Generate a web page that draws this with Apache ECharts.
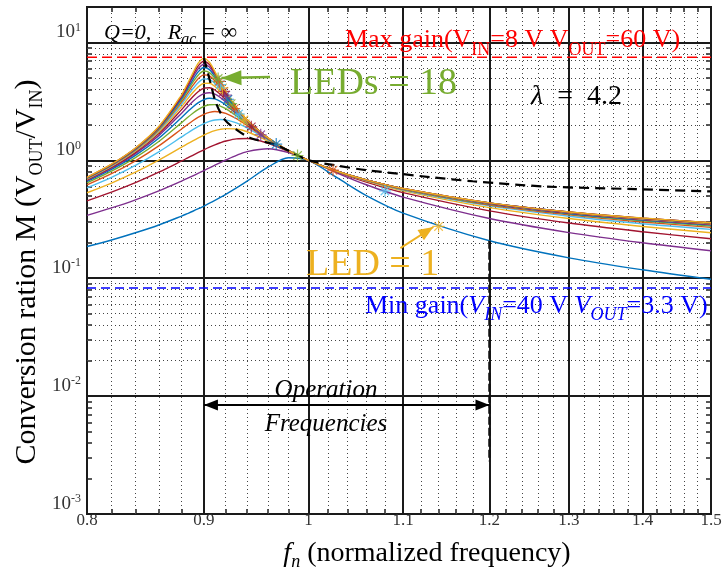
<!DOCTYPE html>
<html>
<head>
<meta charset="utf-8">
<script src="https://cdn.jsdelivr.net/npm/echarts@6/dist/echarts.min.js"></script>
<style>
  html, body { margin: 0; padding: 0; background: #fff; }
  #chart { width: 725px; height: 577px; }
</style>
</head>
<body>
<div id="chart"></div>
<script>
// Normalized switching frequency samples shared by all gain curves
const freq = [0.80, 0.82, 0.84, 0.86, 0.88, 0.885, 0.89, 0.895, 0.90, 0.905, 0.91, 0.915, 0.92, 0.93, 0.94, 0.96, 0.98, 1.00, 1.03, 1.06, 1.10, 1.20, 1.30, 1.40, 1.50];

// Conversion ratio M for 1..18 series-connected LEDs
const led1  = [0.186, 0.211, 0.243, 0.283, 0.337, 0.353, 0.370, 0.389, 0.410, 0.433, 0.458, 0.485, 0.515, 0.584, 0.667, 0.876, 1.053, 1.000, 0.706, 0.503, 0.357, 0.208, 0.149, 0.118, 0.098];
const led2  = [0.341, 0.395, 0.463, 0.552, 0.668, 0.702, 0.739, 0.778, 0.820, 0.864, 0.910, 0.958, 1.007, 1.103, 1.186, 1.254, 1.164, 1.000, 0.777, 0.621, 0.488, 0.321, 0.244, 0.200, 0.171];
const led3  = [0.454, 0.538, 0.647, 0.794, 0.988, 1.045, 1.105, 1.167, 1.230, 1.293, 1.354, 1.410, 1.459, 1.523, 1.531, 1.398, 1.189, 1.000, 0.793, 0.654, 0.532, 0.373, 0.294, 0.248, 0.216];
const led4  = [0.531, 0.642, 0.793, 1.003, 1.293, 1.378, 1.466, 1.554, 1.640, 1.719, 1.785, 1.833, 1.860, 1.844, 1.748, 1.461, 1.198, 1.000, 0.798, 0.667, 0.551, 0.397, 0.321, 0.275, 0.243];
const led5  = [0.584, 0.717, 0.905, 1.180, 1.580, 1.699, 1.821, 1.940, 2.050, 2.139, 2.199, 2.222, 2.207, 2.081, 1.885, 1.493, 1.202, 1.000, 0.801, 0.673, 0.560, 0.411, 0.336, 0.290, 0.260];
const led6  = [0.619, 0.770, 0.990, 1.326, 1.846, 2.005, 2.168, 2.325, 2.459, 2.553, 2.594, 2.574, 2.501, 2.256, 1.975, 1.511, 1.204, 1.000, 0.802, 0.676, 0.566, 0.418, 0.345, 0.300, 0.270];
const led7  = [0.644, 0.809, 1.054, 1.445, 2.090, 2.296, 2.507, 2.708, 2.869, 2.960, 2.968, 2.889, 2.747, 2.385, 2.036, 1.523, 1.206, 1.000, 0.803, 0.678, 0.569, 0.423, 0.351, 0.307, 0.277];
const led8  = [0.663, 0.837, 1.103, 1.542, 2.313, 2.569, 2.838, 3.087, 3.278, 3.361, 3.319, 3.168, 2.953, 2.482, 2.078, 1.530, 1.206, 1.000, 0.804, 0.679, 0.571, 0.427, 0.354, 0.311, 0.282];
const led9  = [0.676, 0.858, 1.141, 1.622, 2.514, 2.826, 3.156, 3.465, 3.686, 3.751, 3.647, 3.415, 3.123, 2.556, 2.109, 1.536, 1.207, 1.000, 0.804, 0.680, 0.573, 0.429, 0.357, 0.314, 0.286];
const led10 = [0.686, 0.875, 1.170, 1.687, 2.695, 3.066, 3.465, 3.840, 4.094, 4.134, 3.953, 3.631, 3.265, 2.613, 2.132, 1.539, 1.208, 1.000, 0.805, 0.681, 0.574, 0.431, 0.359, 0.317, 0.288];
const led11 = [0.693, 0.887, 1.194, 1.740, 2.857, 3.288, 3.761, 4.211, 4.502, 4.505, 4.237, 3.820, 3.384, 2.657, 2.149, 1.542, 1.208, 1.000, 0.805, 0.682, 0.575, 0.432, 0.361, 0.318, 0.290];
const led12 = [0.699, 0.897, 1.213, 1.784, 3.003, 3.492, 4.049, 4.579, 4.909, 4.868, 4.494, 3.985, 3.483, 2.694, 2.163, 1.544, 1.208, 1.000, 0.805, 0.682, 0.575, 0.433, 0.362, 0.320, 0.292];
const led13 = [0.704, 0.905, 1.228, 1.821, 3.133, 3.681, 4.320, 4.945, 5.315, 5.214, 4.735, 4.130, 3.567, 2.722, 2.173, 1.546, 1.208, 1.000, 0.805, 0.682, 0.576, 0.434, 0.363, 0.321, 0.293];
const led14 = [0.708, 0.912, 1.241, 1.852, 3.250, 3.858, 4.583, 5.307, 5.721, 5.556, 4.958, 4.257, 3.637, 2.745, 2.182, 1.547, 1.209, 1.000, 0.805, 0.683, 0.576, 0.434, 0.364, 0.322, 0.294];
const led15 = [0.711, 0.917, 1.251, 1.878, 3.352, 4.016, 4.828, 5.662, 6.127, 5.882, 5.157, 4.368, 3.699, 2.765, 2.189, 1.548, 1.209, 1.000, 0.805, 0.683, 0.576, 0.435, 0.364, 0.322, 0.295];
const led16 = [0.714, 0.921, 1.260, 1.900, 3.446, 4.163, 5.071, 6.008, 6.532, 6.203, 5.345, 4.466, 3.750, 2.781, 2.195, 1.549, 1.209, 1.000, 0.805, 0.683, 0.577, 0.435, 0.365, 0.323, 0.295];
const led17 = [0.716, 0.925, 1.267, 1.919, 3.529, 4.299, 5.294, 6.362, 6.935, 6.498, 5.513, 4.552, 3.793, 2.795, 2.200, 1.550, 1.209, 1.000, 0.805, 0.683, 0.577, 0.435, 0.365, 0.323, 0.296];
const led18 = [0.718, 0.928, 1.273, 1.936, 3.601, 4.423, 5.504, 6.711, 7.338, 6.789, 5.669, 4.629, 3.832, 2.806, 2.204, 1.551, 1.209, 1.000, 0.805, 0.683, 0.577, 0.436, 0.365, 0.324, 0.296];
const ledCurves = [led1, led2, led3, led4, led5, led6, led7, led8, led9, led10, led11, led12, led13, led14, led15, led16, led17, led18];

// Operating point of each LED string (marked with an asterisk)
const opFreq = [1.140, 1.080, 1.025, 0.989, 0.968, 0.953, 0.944, 0.937, 0.932, 0.928, 0.925, 0.922, 0.920, 0.918, 0.917, 0.915, 0.914, 0.913];
const opGain = [0.275, 0.550, 0.825, 1.100, 1.375, 1.650, 1.925, 2.200, 2.475, 2.750, 3.025, 3.300, 3.575, 3.850, 4.125, 4.400, 4.675, 4.950];

// Q = 0 (open load) boundary curve
const boundFreq = [0.900, 0.906, 0.911, 0.919, 0.929, 0.943, 0.967, 0.986, 1.000, 1.030, 1.060, 1.096, 1.131, 1.180, 1.270, 1.390, 1.500];
const boundGain = [7.40, 4.54, 3.07, 2.22, 1.85, 1.55, 1.36, 1.14, 1.00, 0.90, 0.825, 0.77, 0.72, 0.665, 0.60, 0.57, 0.545];

// Gain limits from the input/output voltage ranges
const VIN_MIN = 8, VOUT_MAX = 60, VIN_MAX = 40, VOUT_MIN = 3.3;
const maxGain = VOUT_MAX / VIN_MIN;
const minGain = VOUT_MIN / VIN_MAX;

// Operation frequency window
const opBand = [0.9, 1.2];
const opBandArrowGain = 0.0084;
const opLimitLine = [0.208, 0.0028];

// Annotation arrows [tail, tip] in (fn, M)
const arrowLEDs18 = [[0.962, 5.09], [0.916, 4.99]];
const arrowLED1 = [[1.097, 0.180], [1.134, 0.272]];

// Axis ticks and grid
const xRange = [0.8, 1.5];
const yRange = [0.001, 20];
const xTickLabels = [0.8, 0.9, 1.0, 1.1, 1.2, 1.3, 1.4, 1.5];
const xMajorGrid = [0.9, 1.0, 1.1, 1.2, 1.3, 1.4];
const xMinorGrid = [0.82, 0.84, 0.86, 0.88, 0.92, 0.94, 0.96, 0.98, 1.02, 1.04, 1.06, 1.08, 1.12, 1.14, 1.16, 1.18,
                    1.22, 1.24, 1.26, 1.28, 1.32, 1.34, 1.36, 1.38, 1.42, 1.44, 1.46, 1.48];
const yTickLabels = [0.001, 0.01, 0.1, 1, 10];
const yMajorGrid = [0.01, 0.1, 1, 10];
const yMinorGrid = [0.002, 0.003, 0.004, 0.005, 0.006, 0.007, 0.008, 0.009,
                    0.02, 0.03, 0.04, 0.05, 0.06, 0.07, 0.08, 0.09,
                    0.2, 0.3, 0.4, 0.5, 0.6, 0.7, 0.8, 0.9,
                    2, 3, 4, 5, 6, 7, 8, 9];

const palette = ['#0072BD', '#7E2F8E', '#A2142F', '#EDB120', '#4DBEEE', '#D95319', '#77AC30'];
const SERIF = '"Liberation Serif", "Times New Roman", serif';

// 8-armed asterisk marker
const STAR = 'path://M9,0L11,0L11,20L9,20Z M0,9L20,9L20,11L0,11Z M2.2,3.6L3.6,2.2L17.8,16.4L16.4,17.8Z M16.4,2.2L17.8,3.6L3.6,17.8L2.2,16.4Z';

const chart = echarts.init(document.getElementById('chart'), null, { renderer: 'canvas' });

const majorGridStyle = { color: '#1a1a1a', width: 2, type: 'solid' };
const minorGridStyle = { color: '#444', width: 1, type: [1, 3] };
const gridLines = [];
xMinorGrid.forEach(v => gridLines.push({ xAxis: v, lineStyle: minorGridStyle }));
yMinorGrid.forEach(v => gridLines.push({ yAxis: v, lineStyle: minorGridStyle }));
xMajorGrid.forEach(v => gridLines.push({ xAxis: v, lineStyle: majorGridStyle }));
yMajorGrid.forEach(v => gridLines.push({ yAxis: v, lineStyle: majorGridStyle }));

function logAxis(range, extra) {
  return Object.assign({
    type: 'log', logBase: 10, min: range[0], max: range[1],
    axisLine: { show: false },
    splitLine: { show: false },
    minorTick: { show: false },
    minorSplitLine: { show: false }
  }, extra);
}

const xTicks = { show: true, inside: true, length: 5, customValues: xMinorGrid, lineStyle: { color: '#222', width: 1.5 } };
const yTicks = { show: true, inside: true, length: 5, customValues: yMinorGrid, lineStyle: { color: '#222', width: 1.5 } };

const series = [];

// grid lines
series.push({
  type: 'line', data: [[1, 1]], symbol: 'none', lineStyle: { opacity: 0 }, silent: true, z: 1,
  markLine: { silent: true, symbol: 'none', animation: false, z: 1, label: { show: false }, emphasis: { disabled: true }, data: gridLines }
});

// gain curves
ledCurves.forEach((vals, i) => {
  series.push({
    name: 'LED ' + (i + 1), type: 'line', z: 3, silent: true, symbol: 'none', smooth: 0.3,
    lineStyle: { color: palette[i % 7], width: 1.4 },
    data: freq.map((f, k) => [f, vals[k]])
  });
});

// gain limits
series.push({ type: 'line', z: 4, silent: true, symbol: 'none',
  lineStyle: { color: '#FF0000', width: 1.5, type: [10, 5] }, data: [[xRange[0], maxGain], [xRange[1], maxGain]] });
series.push({ type: 'line', z: 4, silent: true, symbol: 'none',
  lineStyle: { color: '#0000FF', width: 1.5, type: [9, 5] }, data: [[xRange[0], minGain], [xRange[1], minGain]] });

// Q = 0 boundary
series.push({ type: 'line', z: 5, silent: true, symbol: 'none', smooth: 0.3,
  lineStyle: { color: '#000', width: 2.2, type: [10, 6] }, data: boundFreq.map((f, k) => [f, boundGain[k]]) });

// upper limit of operation band
series.push({ type: 'line', z: 5, silent: true, symbol: 'none',
  lineStyle: { color: '#111', width: 2.5, type: [8, 3] }, data: [[opBand[1], opLimitLine[0]], [opBand[1], opLimitLine[1]]] });

// operating points
series.push({ type: 'scatter', z: 6, silent: true, symbol: STAR, symbolSize: 12,
  data: opFreq.map((f, k) => ({ value: [f, opGain[k]], itemStyle: { color: palette[(k + 3) % 7] } })) });

// arrows
function arrow(pts, color, width, head, both) {
  return {
    type: 'line', data: [], z: 7, silent: true,
    markLine: {
      silent: true, animation: false, z: 7,
      symbol: both ? ['triangle', 'triangle'] : ['none', 'triangle'],
      symbolSize: head,
      symbolOffset: [[0, '50%'], [0, '50%']],
      label: { show: false }, emphasis: { disabled: true },
      lineStyle: { color: color, width: width, type: 'solid' },
      itemStyle: { color: color },
      data: [[{ coord: pts[0] }, { coord: pts[1] }]]
    }
  };
}
series.push(arrow(arrowLEDs18, '#77AC30', 2.5, [15, 20], false));
series.push(arrow(arrowLED1, '#EDB120', 2, [12, 15], false));
series.push(arrow([[opBand[0], opBandArrowGain], [opBand[1], opBandArrowGain]], '#000', 2, [11, 14], true));

function rt(font, size, extra) {
  return Object.assign({ fontFamily: SERIF, fontSize: size, fill: '#000' }, font, extra);
}

const graphics = [
  { type: 'text', x: 104, y: 33, z: 10, silent: true, style: {
      text: '{i|Q=0,   R}{s|ac}{n| = ∞}', align: 'left', verticalAlign: 'middle',
      rich: { i: rt({ fontStyle: 'italic' }, 22, { lineHeight: 30 }), s: rt({ fontStyle: 'italic' }, 16, { lineHeight: 17, verticalAlign: 'bottom' }),
              n: rt({}, 23, { lineHeight: 30 }) } } },
  { type: 'text', x: 345, y: 40.5, z: 10, silent: true, style: {
      text: '{m|Max gain(V}{s|IN}{m|=8 V V}{s|OUT}{m|=60 V)}', align: 'left', verticalAlign: 'middle',
      rich: { m: rt({ fill: '#FF0000' }, 26, { lineHeight: 37 }), s: rt({ fill: '#FF0000' }, 18, { lineHeight: 20, verticalAlign: 'bottom' }) } } },
  { type: 'text', x: 290, y: 84, z: 10, silent: true, style: {
      text: 'LEDs = 18', fill: '#77AC30', font: '38px ' + SERIF, align: 'left', verticalAlign: 'middle' } },
  { type: 'text', x: 531, y: 97, z: 10, silent: true, style: {
      text: '{i|λ}{m|  =  4.2}', align: 'left', verticalAlign: 'middle',
      rich: { i: rt({ fontStyle: 'italic' }, 28), m: rt({}, 28) } } },
  { type: 'text', x: 306, y: 265, z: 10, silent: true, style: {
      text: 'LED = 1', fill: '#EDB120', font: '38px ' + SERIF, align: 'left', verticalAlign: 'middle' } },
  { type: 'text', x: 365, y: 306.6, z: 10, silent: true, style: {
      text: '{m|Min gain(}{i|V}{s|IN}{m|=40 V }{i|V}{s|OUT}{m|=3.3 V)}', align: 'left', verticalAlign: 'middle',
      rich: { m: rt({ fill: '#0000FF' }, 26, { lineHeight: 36 }), i: rt({ fill: '#0000FF', fontStyle: 'italic' }, 26, { lineHeight: 36 }),
              s: rt({ fill: '#0000FF', fontStyle: 'italic' }, 18, { lineHeight: 20, verticalAlign: 'bottom' }) } } },
  { type: 'text', x: 326, y: 390.6, z: 10, silent: true, style: {
      text: 'Operation', fill: '#000', font: 'italic 25px ' + SERIF, align: 'center', verticalAlign: 'middle' } },
  { type: 'text', x: 326, y: 424.6, z: 10, silent: true, style: {
      text: 'Frequencies', fill: '#000', font: 'italic 25px ' + SERIF, align: 'center', verticalAlign: 'middle' } },
  { type: 'text', x: 27, y: 272, rotation: Math.PI / 2, z: 10, silent: true, style: {
      text: '{m|Conversion ration M (V}{s|OUT}{m|/V}{s|IN}{m|)}', align: 'center', verticalAlign: 'middle',
      rich: { m: rt({}, 30, { lineHeight: 38 }), s: rt({}, 18, { lineHeight: 20, verticalAlign: 'bottom' }) } } },
  { type: 'text', x: 427, y: 553.5, z: 10, silent: true, style: {
      text: '{i|f}{s|n}{m| (normalized frequency)}', align: 'center', verticalAlign: 'middle',
      rich: { i: rt({ fontStyle: 'italic' }, 28, { lineHeight: 36 }), s: rt({ fontStyle: 'italic' }, 18, { lineHeight: 20, verticalAlign: 'bottom' }),
              m: rt({}, 28, { lineHeight: 36 }) } } }
];

const option = {
  animation: false,
  backgroundColor: '#fff',
  textStyle: { fontFamily: SERIF },
  grid: { left: 87, right: 14, top: 7, bottom: 63, show: true, borderColor: '#1a1a1a', borderWidth: 2,
          backgroundColor: 'transparent', containLabel: false, outerBoundsMode: 'none' },
  xAxis: [
    logAxis(xRange, { position: 'bottom', axisTick: xTicks,
      axisLabel: { customValues: xTickLabels, showMinLabel: true, showMaxLabel: true, margin: -2,
        fontFamily: SERIF, fontSize: 17, color: '#333',
        formatter: v => String(Math.round(v * 10) / 10) } }),
    logAxis(xRange, { position: 'top', axisTick: xTicks, axisLabel: { show: false } })
  ],
  yAxis: [
    logAxis(yRange, { position: 'left', axisTick: yTicks,
      axisLabel: { customValues: yTickLabels, showMinLabel: true, showMaxLabel: true, margin: 6,
        padding: [0, 0, 20, 0],
        formatter: v => '{b|10}{e|' + Math.round(Math.log10(v)) + '}',
        rich: { b: { fontFamily: SERIF, fontSize: 19, lineHeight: 22, color: '#333' },
                e: { fontFamily: SERIF, fontSize: 12, lineHeight: 12, color: '#333', verticalAlign: 'top' } } } }),
    logAxis(yRange, { position: 'right', axisTick: yTicks, axisLabel: { show: false } })
  ],
  series: series,
  graphic: graphics
};

chart.setOption(option);
</script>
</body>
</html>
